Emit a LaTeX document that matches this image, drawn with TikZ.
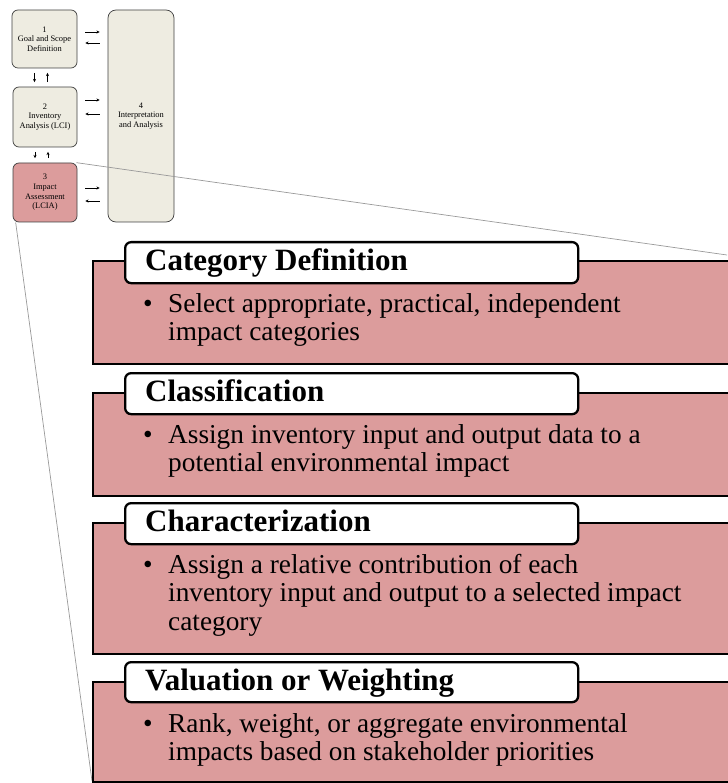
\documentclass[tikz,border=0pt]{standalone}
\usepackage{fontspec}
\setmainfont{Liberation Serif}
\usetikzlibrary{arrows.meta}
\definecolor{pinkfill}{RGB}{220,156,156}
\definecolor{beigefill}{RGB}{238,236,225}
\begin{document}
\begin{tikzpicture}[x=1pt,y=-1pt,
  smallbox/.style={draw=black!75, line width=0.7pt, rounded corners=6pt, align=center,
    font=\fontsize{8.4}{9.7}\selectfont, inner sep=0pt},
  arr/.style={-{Stealth[length=3.2pt,width=3pt]}, line width=0.7pt, shorten <=8pt, shorten >=8pt},
  varr/.style={-{Stealth[length=3.2pt,width=3pt]}, line width=0.7pt, shorten <=4.5pt, shorten >=4.5pt},
  zoomline/.style={draw=black!40, line width=0.7pt},
  sectbody/.style={draw=black, line width=2pt, fill=pinkfill, anchor=north west, inner sep=0pt},
  secthead/.style={draw=black, line width=2.3pt, fill=white, rounded corners=6pt, anchor=north west, inner sep=0pt},
  headtext/.style={font=\fontsize{31}{34}\selectfont\bfseries, anchor=base west, inner sep=0pt},
  bodytext/.style={font=\fontsize{27.3}{29}\selectfont, anchor=base west, inner sep=0pt},
  bulletmark/.style={font=\fontsize{27.3}{29}\selectfont, anchor=base west, inner sep=0pt}]
\useasboundingbox (0,0) rectangle (727,783);

% small overview boxes
\node[smallbox, fill=beigefill, minimum width=65pt, minimum height=58pt] (b1) at (44.5,39) {1\\Goal and Scope\\Definition};
\node[smallbox, fill=beigefill, minimum width=64pt, minimum height=60pt] (b2) at (45,117) {2\\Inventory\\Analysis (LCI)};
\node[smallbox, fill=pinkfill, minimum width=64pt, minimum height=59pt] (b3) at (45,192.5) {3\\Impact\\Assessment\\(LCIA)};
\node[smallbox, fill=beigefill, rounded corners=8pt, minimum width=66pt, minimum height=212pt] (b4) at (141,116) {4\\Interpretation\\and Analysis};

% horizontal arrows
\draw[arr] ([yshift=7pt]b1.east) -- ([yshift=7pt]b1.east -| b4.west);
\draw[arr] ([yshift=-4pt]b1.east -| b4.west) -- ([yshift=-4pt]b1.east);
\draw[arr] ([yshift=17pt]b2.east) -- ([yshift=17pt]b2.east -| b4.west);
\draw[arr] ([yshift=3pt]b2.east -| b4.west) -- ([yshift=3pt]b2.east);
\draw[arr] ([yshift=4.5pt]b3.east) -- ([yshift=4.5pt]b3.east -| b4.west);
\draw[arr] ([yshift=-8.5pt]b3.east -| b4.west) -- ([yshift=-8.5pt]b3.east);

% vertical arrows
\draw[varr] ([xshift=-10pt]b1.south) -- ([xshift=-10pt]b1.south |- b2.north);
\draw[varr] ([xshift=3pt]b1.south |- b2.north) -- ([xshift=3pt]b1.south);
\draw[varr] ([xshift=-10pt]b2.south) -- ([xshift=-10pt]b2.south |- b3.north);
\draw[varr] ([xshift=3pt]b2.south |- b3.north) -- ([xshift=3pt]b2.south);

% zoom lines
\coordinate (zr) at (727,255);
\coordinate (zl) at (92,781);
\draw[zoomline] ([xshift=-1pt]b3.north east) -- (zr);
\draw[zoomline] ([xshift=3pt]b3.south west) -- (zl);

% section 1
\node[sectbody, minimum width=650pt, minimum height=103pt] (s1) at (92,260) {};
\node[secthead, minimum width=453pt, minimum height=41pt] (h1) at (124,241) {};
\node[headtext] (h1t) at (145,270.5) {Category Definition};
\node[bulletmark] (m1) at (143,312) {•};
\node[bodytext] (s1a) at (168,312) {Select appropriate, practical, independent};
\node[bodytext] (s1b) at (168,340) {impact categories};

% section 2
\node[sectbody, minimum width=650pt, minimum height=103pt] (s2) at (92,392) {};
\node[secthead, minimum width=453pt, minimum height=41pt] (h2) at (124,372) {};
\node[headtext] (h2t) at (145,401.5) {Classification};
\node[bulletmark] (m2) at (143,443) {•};
\node[bodytext] (s2a) at (168,443) {Assign inventory input and output data to a};
\node[bodytext] (s2b) at (168,471) {potential environmental impact};

% section 3
\node[sectbody, minimum width=650pt, minimum height=131pt] (s3) at (92,522) {};
\node[secthead, minimum width=453pt, minimum height=41pt] (h3) at (124,502) {};
\node[headtext] (h3t) at (145,531.5) {Characterization};
\node[bulletmark] (m3) at (143,573) {•};
\node[bodytext] (s3a) at (168,573) {Assign a relative contribution of each};
\node[bodytext] (s3b) at (168,601.5) {inventory input and output to a selected impact};
\node[bodytext] (s3c) at (168,630) {category};

% section 4
\node[sectbody, minimum width=650pt, minimum height=100pt] (s4) at (92,681) {};
\node[secthead, minimum width=453pt, minimum height=40pt] (h4) at (124,661) {};
\node[headtext] (h4t) at (145,690.5) {Valuation or Weighting};
\node[bulletmark] (m4) at (143,732) {•};
\node[bodytext] (s4a) at (168,732) {Rank, weight, or aggregate environmental};
\node[bodytext] (s4b) at (168,760) {impacts based on stakeholder priorities};
\end{tikzpicture}
\end{document}
